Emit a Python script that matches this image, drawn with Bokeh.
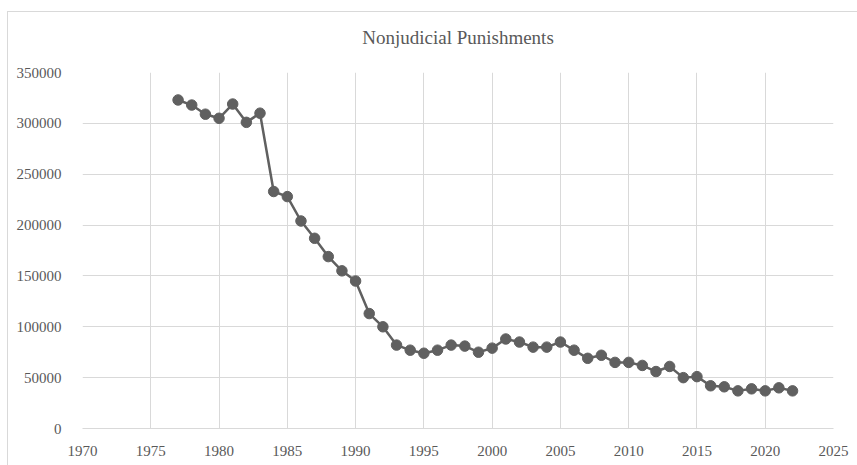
from bokeh.plotting import figure
from bokeh.models import FixedTicker, BasicTickFormatter, ColumnDataSource
from bokeh.embed import file_html
from bokeh.resources import INLINE

years = [1977, 1978, 1979, 1980, 1981, 1982, 1983, 1984, 1985, 1986, 1987, 1988,
         1989, 1990, 1991, 1992, 1993, 1994, 1995, 1996, 1997, 1998, 1999, 2000,
         2001, 2002, 2003, 2004, 2005, 2006, 2007, 2008, 2009, 2010, 2011, 2012,
         2013, 2014, 2015, 2016, 2017, 2018, 2019, 2020, 2021, 2022]
punishments = [323000, 318000, 309000, 305000, 319000, 301000, 310000, 233000,
               228000, 204000, 187000, 169000, 155000, 145000, 113000, 100000,
               82000, 77000, 74000, 77000, 82000, 81000, 75000, 79000,
               88000, 85000, 80000, 80000, 85000, 77000, 69000, 72000,
               65000, 65000, 62000, 56000, 61000, 50000, 51000, 42000,
               41000, 37000, 39000, 37000, 40000, 37000]
x_ticks = [1970, 1975, 1980, 1985, 1990, 1995, 2000, 2005, 2010, 2015, 2020, 2025]
y_ticks = [0, 50000, 100000, 150000, 200000, 250000, 300000, 350000]

FONT = "'Liberation Serif', 'DejaVu Serif', serif"
TEXT = "#595959"
GRID = "#d9d9d9"
SERIES = "#606060"

p = figure(width=857, height=465, output_backend="svg", toolbar_location=None,
           x_range=(1970, 2025), y_range=(0, 350000),
           title="Nonjudicial Punishments",
           min_border_left=82, min_border_right=24, min_border_top=72, min_border_bottom=37)

p.title.align = "center"
p.title.text_font = FONT
p.title.text_font_style = "normal"
p.title.text_font_size = "19px"
p.title.text_color = TEXT
p.title.standoff = 49

p.outline_line_color = None
p.background_fill_color = "white"
p.border_fill_color = None

src = ColumnDataSource(dict(x=years, y=punishments))
p.line("x", "y", source=src, line_color=SERIES, line_width=2.5)
p.scatter("x", "y", source=src, size=10.5, fill_color=SERIES, line_color=SERIES)

p.xaxis.ticker = FixedTicker(ticks=x_ticks)
p.yaxis.ticker = FixedTicker(ticks=y_ticks)
p.yaxis.formatter = BasicTickFormatter(use_scientific=False)

for ax in (p.xaxis[0], p.yaxis[0]):
    ax.major_tick_line_color = None
    ax.minor_tick_line_color = None
    ax.major_label_text_font = FONT
    ax.major_label_text_font_size = "15px"
    ax.major_label_text_color = TEXT
p.yaxis.axis_line_color = None
p.xaxis.axis_line_color = GRID
p.xaxis.axis_line_width = 1
p.yaxis.major_label_standoff = 15
p.xaxis.major_label_standoff = 11

p.xgrid.grid_line_color = GRID
p.ygrid.grid_line_color = GRID
p.xgrid.grid_line_width = 1
p.ygrid.grid_line_width = 1

# Excel-style chart-area border (left and top edges visible in the window)
p.styles = {
    "background": ("linear-gradient(#d9d9d9,#d9d9d9) 7px 11px / 1px 100% no-repeat, "
                   "linear-gradient(#d9d9d9,#d9d9d9) 7px 11px / 100% 1px no-repeat, white"),
}

open("out.html", "w").write(file_html(p, INLINE))
